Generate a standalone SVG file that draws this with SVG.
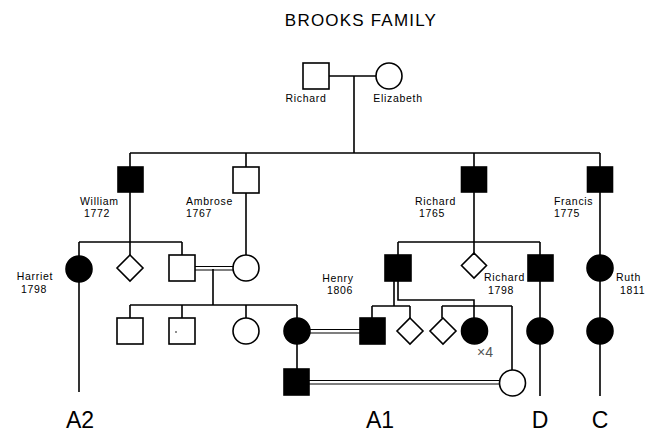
<svg xmlns="http://www.w3.org/2000/svg" width="657" height="433" viewBox="0 0 657 433">
<defs>
<style>
.ln{stroke:#000;stroke-width:1.6;fill:none}
.dl{stroke:#000;stroke-width:1.2;fill:none}
.open{fill:#fff;stroke:#000;stroke-width:1.6}
.aff{fill:#000;stroke:#000;stroke-width:1.6}
.lbl{font-family:"Liberation Sans",Arial,sans-serif;font-size:10.5px;letter-spacing:0.7px;fill:#000}
.big{font-family:"Liberation Sans",Arial,sans-serif;font-size:23px;fill:#000}
.title{font-family:"Liberation Sans",Arial,sans-serif;font-size:17px;letter-spacing:1.2px;fill:#000}
</style>
</defs>
<rect width="657" height="433" fill="#fff"/>
<text class="title" x="361" y="26" text-anchor="middle">BROOKS  FAMILY</text>

<g id="connectors">
<path class="ln" d="M329 76H376M354 76V153M130 153H600"/>
<path class="ln" d="M130 153V167M246 153V167M474 153V167M600 153V167"/>
<path class="ln" d="M130 192V242M79 242H182M79 242V256M130 242V255M182 242V255"/>
<path class="ln" d="M246 193V255"/>
<path class="dl" d="M195 266.5H233M195 270H233"/>
<path class="ln" d="M213 269V305M130 305H297M130 305V318M182 305V318M246 305V318M297 305V318"/>
<path class="dl" d="M310 329.5H360M310 333H360"/>
<path class="ln" d="M297 344V369"/>
<path class="dl" d="M309 380.5H500M309 384H500"/>
<path class="ln" d="M79 282V392"/>
<path class="ln" d="M474 192V242M398 242H540M398 242V255M474 242V253M540 242V255"/>
<path class="ln" d="M394 281V306M372 306H410M372 306V318M410 306V318"/>
<path class="ln" d="M398 281V300H474V318"/>
<path class="ln" d="M442 306H512M442 306V318M512 306V370"/>
<path class="ln" d="M540 281V318M540 344V396"/>
<path class="ln" d="M600 192V255M600 281V318M600 344V396"/>
</g>

<g id="richard_sr"><rect class="open" x="303" y="63" width="26" height="26"/><text class="lbl" x="306" y="102" text-anchor="middle">Richard</text></g>
<g id="elizabeth"><circle class="open" cx="389" cy="76" r="13"/><text class="lbl" x="398" y="102" text-anchor="middle">Elizabeth</text></g>

<g id="william"><rect class="aff" x="118" y="167" width="25" height="25"/><text class="lbl" x="80" y="205">William</text><text class="lbl" x="84" y="217">1772</text></g>
<g id="ambrose"><rect class="open" x="233" y="167" width="26" height="26"/><text class="lbl" x="186" y="205">Ambrose</text><text class="lbl" x="186" y="217">1767</text></g>
<g id="richard_1765"><rect class="aff" x="461.5" y="167" width="25" height="25"/><text class="lbl" x="415" y="205">Richard</text><text class="lbl" x="419" y="217">1765</text></g>
<g id="francis"><rect class="aff" x="587.5" y="167" width="25" height="25"/><text class="lbl" x="554" y="205">Francis</text><text class="lbl" x="554" y="217">1775</text></g>

<g id="harriet"><circle class="aff" cx="79" cy="269" r="13"/><text class="lbl" x="35" y="280" text-anchor="middle">Harriet</text><text class="lbl" x="34" y="293" text-anchor="middle">1798</text></g>
<g id="w_diamond"><polygon class="open" points="130,255 143,268 130,281 117,268"/></g>
<g id="w_son"><rect class="open" x="169" y="255" width="26" height="26"/></g>
<g id="a_daughter"><circle class="open" cx="246" cy="268" r="13"/></g>

<g id="c1"><rect class="open" x="117" y="318" width="26" height="26"/></g>
<g id="c2"><rect class="open" x="169" y="318" width="26" height="26"/><circle cx="176" cy="332" r="0.8" fill="#000"/></g>
<g id="c3"><circle class="open" cx="246" cy="331" r="13"/></g>
<g id="c4"><circle class="aff" cx="297" cy="331" r="13"/></g>
<g id="grandson"><rect class="aff" x="284" y="369" width="25" height="26"/></g>
<g id="wife_bottom"><circle class="open" cx="512.5" cy="383" r="13"/></g>

<g id="henry"><rect class="aff" x="385" y="255" width="26" height="26"/><text class="lbl" x="338" y="282" text-anchor="middle">Henry</text><text class="lbl" x="340" y="294" text-anchor="middle">1806</text></g>
<g id="r_diamond"><polygon class="open" points="474,253 486.5,265.5 474,278 461.5,265.5"/></g>
<g id="richard_1798"><rect class="aff" x="528" y="255" width="25" height="26"/><text class="lbl" x="484" y="281">Richard</text><text class="lbl" x="488" y="294">1798</text></g>
<g id="ruth"><circle class="aff" cx="600" cy="268" r="13"/><text class="lbl" x="616" y="281">Ruth</text><text class="lbl" x="620" y="294">1811</text></g>

<g id="h_son"><rect class="aff" x="360" y="318" width="25" height="26"/></g>
<g id="h_diamond1"><polygon class="open" points="410,318 423,331 410,344 397,331"/></g>
<g id="h_diamond2"><polygon class="open" points="443,318 456,331 443,344 430,331"/></g>
<g id="h_daughter"><circle class="aff" cx="474.5" cy="331" r="13"/><text x="477" y="357" font-family="Liberation Sans,Arial,sans-serif" font-size="14" fill="#555">×4</text></g>
<g id="d_child"><circle class="aff" cx="540" cy="331" r="13"/></g>
<g id="c_child"><circle class="aff" cx="600" cy="331" r="13"/></g>

<g id="branches">
<text class="big" x="80" y="428" text-anchor="middle">A2</text>
<text class="big" x="380" y="428" text-anchor="middle">A1</text>
<text class="big" x="540" y="428" text-anchor="middle">D</text>
<text class="big" x="600" y="428" text-anchor="middle">C</text>
</g>
</svg>
